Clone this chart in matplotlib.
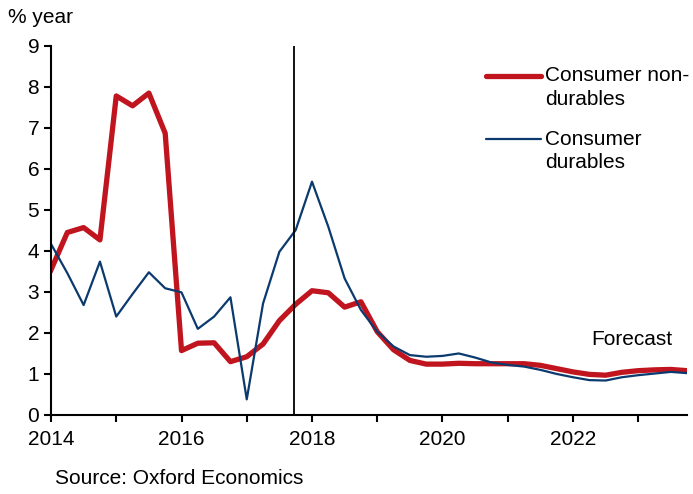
import matplotlib.pyplot as plt
import numpy as np

plt.rcParams["font.family"] = ["Liberation Sans", "DejaVu Sans"]

# quarterly, 2014Q1 .. 2023Q4
quarters = np.arange(40) / 4 + 2014
non_durables = [3.54, 4.45, 4.57, 4.27, 7.78, 7.54, 7.85, 6.87,
                1.57, 1.75, 1.76, 1.30, 1.42, 1.73, 2.30, 2.70,
                3.03, 2.98, 2.63, 2.76, 2.03, 1.59, 1.33, 1.24,
                1.24, 1.26, 1.25, 1.25, 1.25, 1.25, 1.21, 1.13,
                1.05, 0.99, 0.97, 1.04, 1.08, 1.10, 1.11, 1.08]
durables = [4.17, 3.46, 2.68, 3.74, 2.40, 2.95, 3.48, 3.09,
            2.99, 2.10, 2.40, 2.87, 0.38, 2.72, 3.98, 4.51,
            5.69, 4.59, 3.33, 2.56, 2.03, 1.67, 1.46, 1.42,
            1.44, 1.50, 1.40, 1.28, 1.22, 1.18, 1.10, 1.00,
            0.92, 0.85, 0.84, 0.92, 0.97, 1.01, 1.05, 1.02]
forecast_start = 2017.72

RED = "#C0151F"
BLUE = "#0B3A6E"
FS = 15

fig = plt.figure(figsize=(6.93, 4.94), dpi=100)
ax = fig.add_axes([0.0736, 0.16, 0.918, 0.747])

ax.plot(quarters, non_durables, color=RED, lw=3.8, solid_joinstyle="round")
ax.plot(quarters, durables, color=BLUE, lw=1.6)
ax.axvline(forecast_start, color="black", lw=1.3)

ax.set_xlim(2014, 2023.75)
ax.set_ylim(0, 9)
ax.set_yticks(range(10))
ax.set_xticks(range(2014, 2024))
ax.set_xticklabels([str(y) if y % 2 == 0 else "" for y in range(2014, 2024)])
ax.tick_params(labelsize=FS, length=5, width=1.5, direction="out")
ax.tick_params(axis="x", pad=6)
for s in ["top", "right"]:
    ax.spines[s].set_visible(False)
for s in ["left", "bottom"]:
    ax.spines[s].set_linewidth(1.5)

ax.text(2022.28, 1.83, "Forecast", fontsize=FS, ha="left", va="center")
fig.text(0.012, 0.965, "% year", fontsize=FS, ha="left", va="center")
fig.text(0.079, 0.032, "Source: Oxford Economics", fontsize=FS, ha="left", va="center")

# legend, drawn by hand so the key sits on the first text line
legend_items = [("Consumer non-", "durables", RED, 3.8, 0.919),
                ("Consumer", "durables", BLUE, 1.6, 0.747)]
for line1, line2, col, lw, y in legend_items:
    ax.plot([0.684, 0.771], [y, y], color=col, lw=lw, transform=ax.transAxes,
            clip_on=False, solid_capstyle="round")
    ax.text(0.777, y, line1, fontsize=FS, ha="left", va="center", transform=ax.transAxes)
    ax.text(0.777, y - 0.064, line2, fontsize=FS, ha="left", va="center", transform=ax.transAxes)

plt.savefig("out.png", dpi=100)
